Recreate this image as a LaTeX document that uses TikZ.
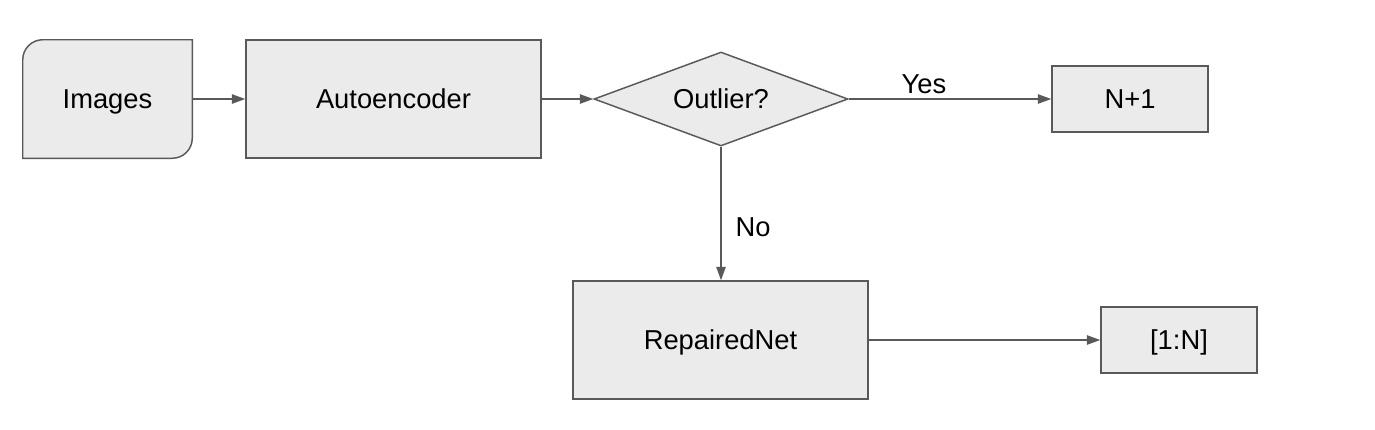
\documentclass[tikz,border=0pt]{standalone}
\usepackage{fontspec}
\setmainfont{Liberation Sans}
\usetikzlibrary{shapes.geometric,arrows.meta,backgrounds}
\definecolor{boxfill}{HTML}{EBEBEB}
\definecolor{edgecol}{HTML}{595959}
\begin{document}
\begin{tikzpicture}[x=0.75pt,y=-0.75pt,
  base/.style={inner sep=0pt,font=\fontsize{20.5}{24}\selectfont,text height=14.6pt,text depth=0pt},
  box/.style={base,rectangle,draw=edgecol,fill=boxfill,line width=1.1pt},
  bigbox/.style={box,minimum width=221.25pt,minimum height=88.5pt},
  smallbox/.style={box,minimum width=117pt,minimum height=49.5pt},
  decision/.style={base,diamond,shape aspect=2.7,draw=edgecol,fill=boxfill,line width=1.1pt,minimum width=190.5pt,minimum height=70.5pt},
  lbl/.style={base},
  conn/.style={draw=edgecol,line width=1.1pt,-{Triangle[length=10pt,width=7pt]}}
]
\useasboundingbox (0,0) rectangle (1375,429);
\node[base,minimum width=126.75pt,minimum height=88.5pt] (img) at (107.5,99) {Images};
\begin{scope}[on background layer]
  \filldraw[draw=edgecol,fill=boxfill,line width=1.1pt]
    (img.west) [rounded corners=15pt] |- (img.north) [sharp corners] -| (img.east)
    [rounded corners=15pt] |- (img.south) [sharp corners] -| (img.west) -- cycle;
\end{scope}
\node[bigbox] (ae) at (393.5,99) {Autoencoder};
\node[decision] (dia) at (721,99) {Outlier?};
\node[smallbox] (n1) at (1130,99) {N+1};
\node[bigbox] (rep) at (720.5,340) {RepairedNet};
\node[smallbox] (one) at (1179,340) {[1:N]};
\node[lbl] (yes) at (924,84) {Yes};
\node[lbl] (no) at (753,227) {No};
\draw[conn] (img) -- (ae);
\draw[conn] (ae) -- (dia);
\draw[conn] (dia) -- (n1);
\draw[conn] (dia.south) -- (dia.south |- rep.north);
\draw[conn] (rep) -- (one);
\end{tikzpicture}
\end{document}
